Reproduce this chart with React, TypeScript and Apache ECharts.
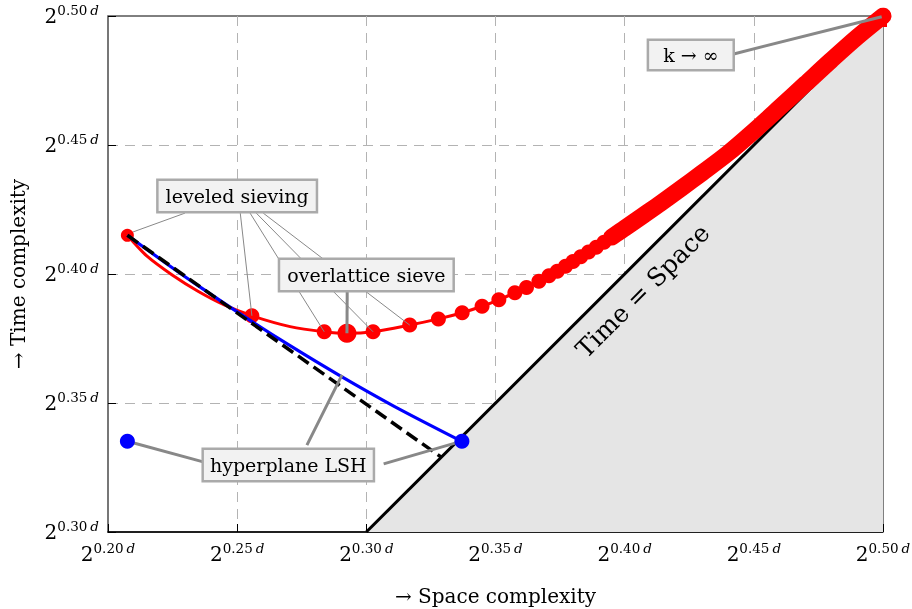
import React, { useEffect, useRef } from "react";
import * as echarts from "echarts";

const FONT = "'DejaVu Serif', serif";

// axis ranges / ticks (log2 exponents times d)
const xRange = [0.2, 0.5];
const yRange = [0.3, 0.5];
const tickStep = 0.05;

// red curve: leveled sieving trade-off (space, time) exponents
const redCurve: [number, number][] = [
  [0.2075, 0.415], [0.215, 0.407], [0.225, 0.3995], [0.235, 0.3932], [0.245, 0.388],
  [0.2557, 0.3838], [0.2705, 0.3796], [0.2837, 0.3776], [0.2925, 0.377], [0.3026, 0.3776],
  [0.3168, 0.3802], [0.3279, 0.3826], [0.3371, 0.385], [0.3448, 0.3875], [0.3513, 0.39],
  [0.3575, 0.3927], [0.362, 0.3948], [0.3668, 0.3972], [0.3707, 0.3993], [0.3739, 0.4011],
  [0.3771, 0.403], [0.38, 0.4048], [0.383, 0.4067], [0.386, 0.4085], [0.389, 0.4104],
  [0.392, 0.4123], [0.395, 0.4143], [0.398, 0.4164], [0.4, 0.4177], [0.407, 0.4226],
  [0.414, 0.4275], [0.422, 0.4333], [0.43, 0.4392], [0.44, 0.4468], [0.45, 0.4554],
  [0.46, 0.4645], [0.47, 0.4737], [0.48, 0.4829], [0.49, 0.4918], [0.5, 0.5],
];

// dense run of leveled-sieving points (k large) that merges into a solid band
const denseBand: [number, number][] = [
  [0.395, 0.4143], [0.398, 0.4164], [0.4, 0.4177], [0.407, 0.4226], [0.414, 0.4275],
  [0.422, 0.4333], [0.43, 0.4392], [0.44, 0.4468], [0.45, 0.4554], [0.46, 0.4645],
  [0.47, 0.4737], [0.48, 0.4829], [0.49, 0.4918], [0.5, 0.5],
];

const startDot: [number, number][] = [[0.2075, 0.415]];
const leveledDots: [number, number][] = [
  [0.2557, 0.3838], [0.2837, 0.3776], [0.3026, 0.3776], [0.3168, 0.3802], [0.3279, 0.3826],
  [0.3371, 0.385], [0.3448, 0.3875], [0.3513, 0.39], [0.3575, 0.3927], [0.362, 0.3948],
  [0.3668, 0.3972], [0.3707, 0.3993], [0.3739, 0.4011], [0.3771, 0.403], [0.38, 0.4048],
  [0.383, 0.4067], [0.386, 0.4085], [0.389, 0.4104], [0.392, 0.4123], [0.395, 0.4143],
  [0.398, 0.4164],
];
const overlatticeDot: [number, number][] = [[0.2925, 0.377]];
const limitDot: [number, number][] = [[0.5, 0.5]];

// hyperplane LSH
const hyperplaneCurve: [number, number][] = [
  [0.2075, 0.415], [0.2227, 0.404], [0.2357, 0.3949], [0.2543, 0.3825],
  [0.27, 0.3725], [0.2899, 0.3605], [0.3106, 0.3488], [0.337, 0.3351],
];
const hyperplaneDots: [number, number][] = [[0.2075, 0.3352], [0.337, 0.3352]];

// dashed straight line
const dashedLine: [number, number][] = [[0.2075, 0.415], [0.329, 0.329]];

// Time = Space diagonal
const diagonal: [number, number][] = [[0.3, 0.3], [0.5, 0.5]];

// annotation boxes (centre, in data coordinates)
const boxes = [
  { text: "leveled sieving", at: [0.25, 0.4302], pad: [6, 7, 5, 7] },
  { text: "overlattice sieve", at: [0.3, 0.3996], pad: [6, 7, 5, 7] },
  { text: "hyperplane LSH", at: [0.2698, 0.326], pad: [6, 6, 5, 6] },
  { text: "k \u2192 \u221e", at: [0.4256, 0.4849], pad: [5, 14, 4, 14] },
];
const diagonalLabel = { text: "Time = Space", at: [0.407, 0.3934] };

// leader lines: [from, to, width]
const leaders: [[number, number], [number, number], number][] = [
  [[0.2298, 0.4236], [0.2097, 0.4163], 1],
  [[0.2512, 0.4236], [0.2557, 0.3838], 1],
  [[0.255, 0.4236], [0.2837, 0.3776], 1],
  [[0.2574, 0.4236], [0.3026, 0.3776], 1],
  [[0.2601, 0.4236], [0.3168, 0.3802], 1],
  [[0.2926, 0.3934], [0.2925, 0.377], 3],
  [[0.2372, 0.3271], [0.2075, 0.3352], 3],
  [[0.277, 0.3337], [0.2906, 0.3609], 3],
  [[0.3067, 0.3264], [0.337, 0.3352], 3],
  [[0.4422, 0.4853], [0.4995, 0.4997], 3],
];

const richTick = {
  b: { fontFamily: FONT, fontSize: 20, color: "#000", lineHeight: 26 },
  s: { fontFamily: FONT, fontSize: 13.5, color: "#000", lineHeight: 12, verticalAlign: "top" },
  d: { fontFamily: FONT, fontSize: 13.5, fontStyle: "italic", color: "#000", lineHeight: 12, verticalAlign: "top", padding: [0, 0, 0, 3] },
};
const tickFmt = (v: number) => `{b|2}{s|${v.toFixed(2)}}{d|d}`;

export default function App() {
  const ref = useRef<HTMLDivElement>(null);
  useEffect(() => {
    const chart = echarts.init(ref.current!, null, { renderer: "svg", width: 912, height: 609 });
    const line = (data: any, color: string, width: number, z: number, extra: any = {}) => ({
      type: "line",
      data,
      z,
      symbol: "none",
      silent: true,
      lineStyle: { color, width },
      ...extra,
    });
    const dots = (data: any, color: string, size: number, z: number, extra: any = {}) => ({
      type: "scatter",
      data,
      z,
      symbolSize: size,
      silent: true,
      itemStyle: { color, opacity: 1 },
      ...extra,
    });
    const axisCommon = (name: string, range: number[], gap: number, lineColor: string, lineWidth: number) => ({
      type: "value",
      min: range[0],
      max: range[1],
      interval: tickStep,
      name,
      nameLocation: "middle",
      nameGap: gap,
      nameTextStyle: { fontFamily: FONT, fontSize: 20, color: "#000" },
      axisLine: { show: true, lineStyle: { color: lineColor, width: lineWidth } },
      axisTick: { show: true, inside: true, length: 8, lineStyle: { color: "#000", width: 1 } },
      axisLabel: { formatter: tickFmt, rich: richTick, margin: 9 },
      splitLine: {
        show: true,
        showMinLine: false,
        showMaxLine: false,
        lineStyle: { color: "#b3b3b3", width: 1, type: [10, 7] },
      },
    });
    chart.setOption({
      animation: false,
      grid: {
        left: 108, right: 29, top: 16, bottom: 77,
        show: true, borderColor: "#000", borderWidth: 1,
        outerBoundsMode: "none",
      },
      xAxis: axisCommon("\u2192 Space complexity", xRange, 54, "#000", 1.5),
      yAxis: axisCommon("\u2192 Time complexity", yRange, 80, "#777", 2),
      series: [
        line(diagonal, "#000", 3, 1, { areaStyle: { color: "#e5e5e5", opacity: 1, origin: "start" } }),
        line(redCurve, "#ff0000", 3, 2, { smooth: 0.3 }),
        line(denseBand, "#ff0000", 17, 2, {
          smooth: 0.3,
          lineStyle: { color: "#ff0000", width: 17, cap: "round", join: "round" },
        }),
        dots(limitDot, "#ff0000", 14, 2, { symbol: "rect", symbolOffset: [-3, 4], clip: false }),
        dots(startDot, "#ff0000", 13, 2),
        dots(leveledDots, "#ff0000", 15, 2),
        dots(overlatticeDot, "#ff0000", 19, 2),
        line(hyperplaneCurve, "#0000ff", 3.2, 3, { smooth: 0.3 }),
        line(dashedLine, "#000", 3.5, 3, { lineStyle: { color: "#000", width: 3.5, type: [13, 6] } }),
        ...leaders.map(([a, b, w]) => line([a, b], "#888", w, 4)),
        dots(hyperplaneDots, "#0000ff", 15, 5),
      ],
    });
    const px = (p: number[]) => chart.convertToPixel({ gridIndex: 0 }, p) as number[];
    const dl = px(diagonalLabel.at);
    chart.setOption({
      graphic: [
        ...boxes.map((b) => {
          const p = px(b.at);
          return {
            type: "text",
            x: p[0],
            y: p[1],
            z: 100,
            style: {
              text: b.text,
              fontFamily: FONT,
              fontSize: 19,
              fill: "#000",
              align: "center",
              verticalAlign: "middle",
              backgroundColor: "#f2f2f2",
              borderColor: "#aaa",
              borderWidth: 2.5,
              padding: b.pad,
            },
          };
        }),
        {
          type: "text",
          x: dl[0],
          y: dl[1],
          rotation: Math.PI / 4,
          z: 100,
          style: {
            text: diagonalLabel.text,
            fontFamily: FONT,
            fontSize: 25,
            fill: "#000",
            align: "center",
            verticalAlign: "middle",
          },
        },
      ],
    });
    return () => chart.dispose();
  }, []);
  return <div ref={ref} style={{ position: "fixed", left: 0, top: 0, width: 912, height: 609 }} />;
}
